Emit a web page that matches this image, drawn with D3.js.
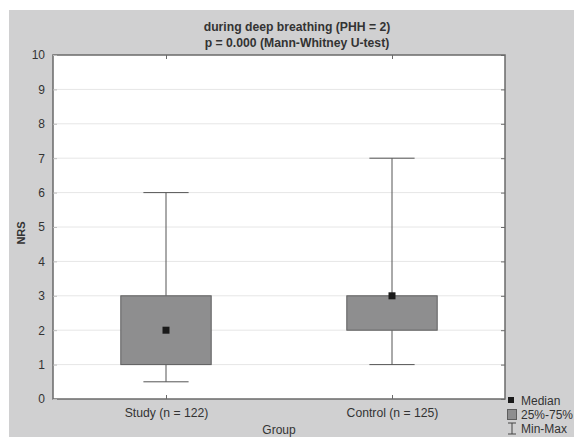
<!DOCTYPE html>
<html>
<head>
<meta charset="utf-8">
<script src="https://cdn.jsdelivr.net/npm/d3@7"></script>
<style>
  html, body { margin: 0; padding: 0; background: #ffffff; }
  svg { display: block; }
  text { font-family: "Liberation Sans", Arial, sans-serif; }
</style>
</head>
<body>
<svg id="chart" width="574" height="437"></svg>
<script>
// ---- data ----
const categories = ["Study (n = 122)", "Control (n = 125)"];
const minValues = [0.5, 1];
const q1Values = [1, 2];
const medianValues = [2, 3];
const q3Values = [3, 3];
const maxValues = [6, 7];
const yTicks = [0, 1, 2, 3, 4, 5, 6, 7, 8, 9, 10];
const titleLines = ["during deep breathing (PHH = 2)", "p = 0.000 (Mann-Whitney U-test)"];
const legendLabels = ["Median", "25%-75%", "Min-Max"];

const svg = d3.select("#chart");
const W = 574, H = 437;
const plot = { left: 53, right: 505, top: 55, bottom: 399 };

// background panel
svg.append("rect").attr("x", 9).attr("y", 10).attr("width", W - 9).attr("height", H - 10)
  .attr("fill", "#d0d0d1");

// plot area
svg.append("rect").attr("x", plot.left).attr("y", plot.top)
  .attr("width", plot.right - plot.left).attr("height", plot.bottom - plot.top)
  .attr("fill", "#ffffff");

const x = d3.scalePoint().domain(categories).range([plot.left, plot.right]).padding(0.5);
const y = d3.scaleLinear().domain([0, 10]).range([plot.bottom, plot.top]);

// gridlines
svg.append("g").selectAll("line").data(yTicks.filter(d => d > 0 && d < 10)).join("line")
  .attr("x1", plot.left).attr("x2", plot.right)
  .attr("y1", d => y(d)).attr("y2", d => y(d))
  .attr("stroke", "#e6e6e6").attr("stroke-width", 1);

const data = categories.map((c, i) => ({
  cat: c, min: minValues[i], q1: q1Values[i], med: medianValues[i], q3: q3Values[i], max: maxValues[i]
}));

const boxW = (plot.right - plot.left) * 0.2;
const capW = boxW * 0.5;

const g = svg.append("g");
data.forEach(d => {
  const cx = x(d.cat);
  g.append("line").attr("x1", cx).attr("x2", cx).attr("y1", y(d.q3)).attr("y2", y(d.max))
    .attr("stroke", "#555").attr("stroke-width", 1);
  g.append("line").attr("x1", cx).attr("x2", cx).attr("y1", y(d.q1)).attr("y2", y(d.min))
    .attr("stroke", "#555").attr("stroke-width", 1);
  g.append("line").attr("x1", cx - capW / 2).attr("x2", cx + capW / 2).attr("y1", y(d.max)).attr("y2", y(d.max))
    .attr("stroke", "#555").attr("stroke-width", 1);
  g.append("line").attr("x1", cx - capW / 2).attr("x2", cx + capW / 2).attr("y1", y(d.min)).attr("y2", y(d.min))
    .attr("stroke", "#555").attr("stroke-width", 1);
  g.append("rect").attr("x", cx - boxW / 2).attr("y", y(d.q3))
    .attr("width", boxW).attr("height", y(d.q1) - y(d.q3))
    .attr("fill", "#8e8e8f").attr("stroke", "#5e5e5e").attr("stroke-width", 1);
  g.append("rect").attr("x", cx - 3.5).attr("y", y(d.med) - 3.5)
    .attr("width", 7).attr("height", 7).attr("fill", "#1a1a1a");
});

// axes frame
const axisColor = "#6a6a6a";
svg.append("rect").attr("x", plot.left).attr("y", plot.top)
  .attr("width", plot.right - plot.left).attr("height", plot.bottom - plot.top)
  .attr("fill", "none").attr("stroke", axisColor).attr("stroke-width", 1.5);

// left axis (inward ticks)
const leftAxis = d3.axisLeft(y).tickValues(yTicks).tickSize(-4).tickPadding(8).tickFormat(d3.format("d"));
const la = svg.append("g").attr("transform", `translate(${plot.left},0)`).call(leftAxis);
la.select(".domain").remove();
la.selectAll(".tick line").attr("stroke", "#bdbdbd");
la.selectAll("text").attr("font-size", 12).attr("fill", "#333");

// right axis ticks
const rightAxis = d3.axisRight(y).tickValues(yTicks).tickSize(-4).tickFormat("");
const ra = svg.append("g").attr("transform", `translate(${plot.right},0)`).call(rightAxis);
ra.select(".domain").remove();
ra.selectAll(".tick line").attr("stroke", axisColor);

// bottom axis
const bottomAxis = d3.axisBottom(x).tickSize(-4).tickPadding(9);
const ba = svg.append("g").attr("transform", `translate(0,${plot.bottom})`).call(bottomAxis);
ba.select(".domain").remove();
ba.selectAll(".tick line").attr("stroke", axisColor);
ba.selectAll("text").attr("font-size", 12.2).attr("fill", "#333");

// top axis ticks
const topAxis = d3.axisTop(x).tickSize(-4).tickFormat("");
const ta = svg.append("g").attr("transform", `translate(0,${plot.top})`).call(topAxis);
ta.select(".domain").remove();
ta.selectAll(".tick line").attr("stroke", axisColor);

// titles
svg.append("text").attr("x", 297).attr("y", 31).attr("text-anchor", "middle")
  .attr("font-size", 12.2).attr("font-weight", "bold").attr("fill", "#333").text(titleLines[0]);
svg.append("text").attr("x", 297).attr("y", 47).attr("text-anchor", "middle")
  .attr("font-size", 12.2).attr("font-weight", "bold").attr("fill", "#333").text(titleLines[1]);

// y label
svg.append("text").attr("transform", "translate(25,233) rotate(-90)").attr("text-anchor", "middle")
  .attr("font-size", 11).attr("font-weight", "bold").attr("fill", "#333").text("NRS");

// x label
svg.append("text").attr("x", 279).attr("y", 434).attr("text-anchor", "middle")
  .attr("font-size", 12).attr("fill", "#333").text("Group");

// legend
const lg = svg.append("g");
lg.append("rect").attr("x", 508).attr("y", 397).attr("width", 6).attr("height", 6).attr("fill", "#1a1a1a");
lg.append("text").attr("x", 521).attr("y", 405).attr("font-size", 12).attr("fill", "#333").text(legendLabels[0]);
lg.append("rect").attr("x", 507.5).attr("y", 409.5).attr("width", 9).attr("height", 10)
  .attr("fill", "#8e8e8f").attr("stroke", "#5e5e5e").attr("stroke-width", 1);
lg.append("text").attr("x", 521).attr("y", 419).attr("font-size", 12).attr("fill", "#333").text(legendLabels[1]);
lg.append("line").attr("x1", 512).attr("x2", 512).attr("y1", 423).attr("y2", 434).attr("stroke", "#444");
lg.append("line").attr("x1", 508).attr("x2", 516).attr("y1", 423).attr("y2", 423).attr("stroke", "#444");
lg.append("line").attr("x1", 508).attr("x2", 516).attr("y1", 434).attr("y2", 434).attr("stroke", "#444");
lg.append("text").attr("x", 521).attr("y", 433).attr("font-size", 12).attr("fill", "#333").text(legendLabels[2]);
</script>
</body>
</html>
